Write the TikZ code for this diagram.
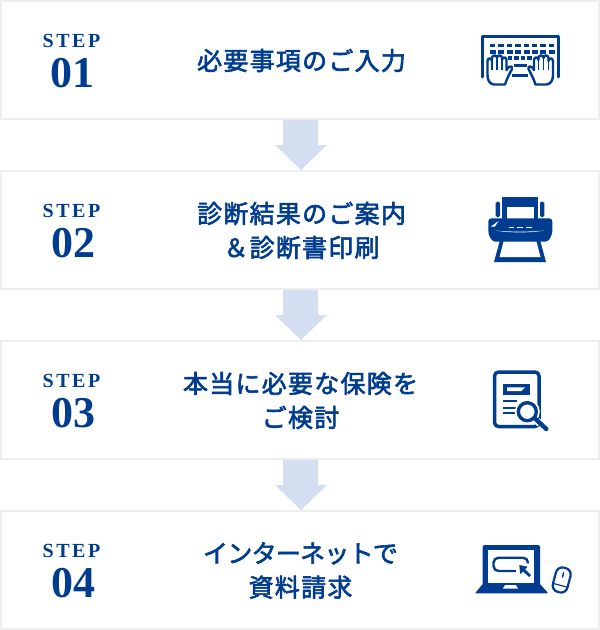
\documentclass[tikz,border=0pt]{standalone}
\usepackage{fontspec}
\setmainfont{Liberation Serif}
\newfontfamily\cjk[LetterSpace=5,FakeBold=2.4]{Noto Sans CJK JP}
\newfontfamily\cjkkana[LetterSpace=-3,FakeBold=2.4]{Noto Sans CJK JP}
\newfontfamily\stepfont[LetterSpace=13]{Liberation Serif}
\definecolor{navy}{HTML}{003C8F}
\definecolor{edge}{HTML}{EEEEEE}
\definecolor{flow}{HTML}{D3DFF0}
\tikzset{
  x=1pt,y=-1pt,
  stepbox/.style={draw=edge,line width=2pt,fill=white,minimum width=598pt,minimum height=118pt,outer sep=0pt,inner sep=0pt},
  steplabel/.style={text=navy,inner sep=0pt,font=\stepfont\bfseries\fontsize{20}{20}\selectfont},
  stepnum/.style={text=navy,inner sep=0pt,font=\bfseries\fontsize{44}{44}\selectfont},
  title/.style={text=navy,inner sep=0pt,align=center,font=\cjk\fontsize{25}{34}\selectfont},
  flowarrow/.style={fill=flow,draw=none},
  ink/.style={draw=navy,line width=3pt,line cap=round,line join=round},
  thin ink/.style={draw=navy,line width=2pt,line cap=round,line join=round},
  key/.style={fill=navy,draw=none}
}
\begin{document}
\begin{tikzpicture}
\useasboundingbox (0,0) rectangle (600,630);
\node[stepbox] (b1) at (300,60) {};
\node[stepbox] (b2) at (300,230) {};
\node[stepbox] (b3) at (300,400) {};
\node[stepbox] (b4) at (300,570) {};
% flow arrows
\foreach \t in {120,290,460}{
  \fill[flowarrow] (283,\t) -- (318,\t) -- (318,\t+25) -- (327,\t+25) -- (301,\t+50) -- (275,\t+25) -- (283,\t+25) -- cycle;
}
% step labels
\node[steplabel] (s1) at (71.5,41) {STEP};
\node[stepnum] (n1) at (72.3,73.5) {01};
\node[steplabel] (s2) at (71.5,211) {STEP};
\node[stepnum] (n2) at (73,243.5) {02};
\node[steplabel] (s3) at (71.5,381) {STEP};
\node[stepnum] (n3) at (73,413.5) {03};
\node[steplabel] (s4) at (71.5,551) {STEP};
\node[stepnum] (n4) at (73,583.5) {04};
% titles
\node[title] (t1) at (301.5,60.5) {必要事項のご入力};
\node[title] (t2) at (301.5,230.5) {診断結果のご案内\\＆診断書印刷};
\node[title] (t3) at (300.5,400.5) {本当に必要な保険を\\ご検討};
\node[title] (t4) at (300.5,570.5) {{\cjkkana インターネットで}\\資料請求};
% ---------- keyboard
\draw[ink] (482.5,77) -- (482.5,36.5) -- (558,36.5) -- (558,77);
\foreach \i in {0,...,7}{
  \fill[key] (490+8.4*\i,44.3) rectangle ++(5.4,3);
  \fill[key] (490+8.4*\i,50) rectangle ++(6,4);
}
\foreach \i in {0,...,3}{\fill[key] (507.5+6.5*\i,56) rectangle ++(4.6,3.8);}
\fill[key] (514,63.5) rectangle ++(13,3.6);
\fill[key] (512,74) rectangle ++(16,3);
\foreach \m/\o in {1/0,-1/-1040.5}{
\begin{scope}[xscale=\m,xshift=\o pt]
 \filldraw[fill=white,draw=navy,line width=2.4pt,line join=round,line cap=round]
  (494,84.5) .. controls (489.5,84) and (487.5,80) .. (487.5,75)
  -- (487.5,61) .. controls (487.5,57.5) and (492,57.5) .. (492,61)
  -- (492,58) .. controls (492,54.5) and (497,54.5) .. (497,58)
  -- (497,58) .. controls (497,54.5) and (502,54.5) .. (502,58)
  -- (502,60) .. controls (502,56.5) and (506.5,56.5) .. (506.5,60)
  -- (506.5,70) .. controls (508,66) and (513,65) .. (512,69)
  .. controls (510,73) and (507,78) .. (505,84.5) -- cycle;
 \draw[navy,line width=1.2pt] (492,61) -- (492,70) (497,58) -- (497,70) (502,60) -- (502,70);
\end{scope}}
% ---------- printer
\fill[navy] (502.3,197.3) rectangle (538,219);
\fill[white] (506.8,207.3) rectangle (534,219);
\fill[navy,rounded corners=1.5pt] (495.7,201.7) rectangle (500,217);
\fill[navy,rounded corners=1.5pt] (540,201.7) rectangle (544.3,217);
\fill[navy] (500,240) -- (540,240) -- (546,262) -- (494,262) -- cycle;
\fill[white] (504,240) -- (536,240) -- (540.5,257) -- (499.5,257) -- cycle;
\fill[navy,rounded corners=3pt] (488.3,218.3) -- (552.3,218.3) -- (552.3,234) -- (548,241.7) -- (492.5,241.7) -- (488.3,234) -- cycle;
\fill[white] (491,226.5) -- (498.5,221) -- (495,226.5) -- cycle;
\fill[white] (495,230.5) .. controls (510,232) and (530,232) .. (545,230.5) .. controls (530,233) and (510,233) .. (495,230.5) -- cycle;
\fill[white] (508.5,226.8) rectangle ++(5,1);
\fill[white] (516.5,226.5) rectangle ++(6,1.4);
\fill[white] (526,226.8) rectangle ++(5.5,1);
% ---------- document and lens
\draw[ink,line width=3.5pt,rounded corners=4pt] (494.5,372) rectangle (539,426.5);
\fill[navy] (503.3,384) rectangle (530,395);
\fill[white] (507,387.3) -- (525,387.3) -- (521.5,391) -- (507,391) -- cycle;
\draw[thin ink,line width=2.3pt,line cap=butt] (503.3,401) -- (517,401) (503.3,407.7) -- (516,407.7) (503.3,413.3) -- (516,413.3);
\fill[white] (527.3,411.7) circle (12.5);
\draw[ink,line width=3.4pt] (527.3,411.7) circle (9);
\draw[white,line width=7pt] (537,420.5) -- (540,424);
\draw[ink,line width=4.4pt] (534.5,418) -- (546.3,429);
% ---------- laptop
\fill[navy,rounded corners=2pt] (482.7,545) -- (540,545) -- (540,586) -- (482.7,586) -- cycle;
\fill[white] (488.3,550) rectangle (534,583.3);
\fill[navy,rounded corners=1pt] (482.7,584) -- (540,584) -- (548.3,593.3) -- (475,593.3) -- cycle;
\fill[white] (505,585) -- (516,585) -- (518,588.5) -- (503,588.5) -- cycle;
\draw[navy,line width=2.4pt,rounded corners=5pt] (493.5,557.7) rectangle (528,571);
\fill[white] (516,562) -- (533,564) -- (534,580) -- (516,578) -- cycle;
\fill[navy] (519.3,565) -- (520.3,574) -- (523,571.5) -- (529.2,577) -- (531,575) -- (525,569.3) -- (527.7,566.7) -- cycle;
\begin{scope}[shift={(561.7,580)},rotate=-15]
 \draw[thin ink,line width=2.2pt,rounded corners=6.5pt] (-7.5,-12.5) rectangle (7.5,12.5);
 \draw[thin ink,line width=1.5pt] (0,-7.5) -- (0,-3);
 \draw[thin ink,line width=1.2pt] (-7.5,5.5) -- (7.5,5.5);
\end{scope}
\end{tikzpicture}
\end{document}
